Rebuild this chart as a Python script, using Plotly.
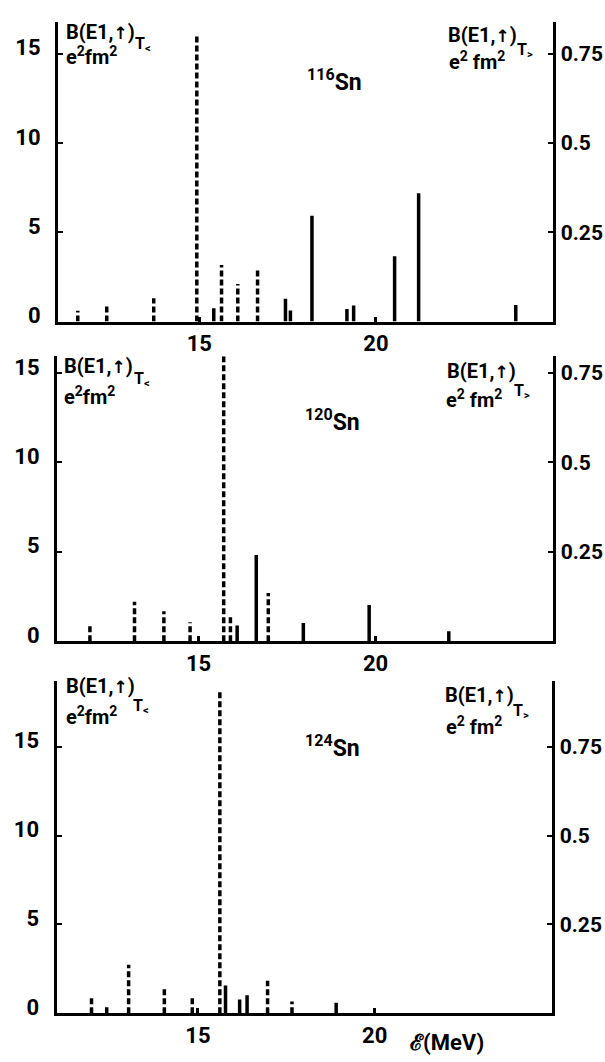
import plotly.graph_objects as go

W, H = 605, 1062

# ---------------- data ----------------
x_ticks = [15, 20]
x_tick_labels = ["15", "20"]
left_ticks = [0, 5, 10, 15]
left_tick_labels = ["0", "5", "10", "15"]
right_ticks = [0.25, 0.5, 0.75]
right_tick_labels = ["0.25", "0.5", "0.75"]

nuclei = ["116", "120", "124"]

# 116Sn  (T< on left axis, e^2 fm^2 ; T> on right axis, e^2 fm^2)
sn116_tlow_energy = [11.56, 12.38, 13.71, 14.93, 15.63, 16.09, 16.65]
sn116_tlow_b = [0.6, 0.9, 1.31, 16.1, 3.16, 2.1, 3.0]
sn116_thigh_energy = [15.41, 17.44, 17.58, 18.19, 19.18, 19.37, 20.53, 21.21, 23.96]
sn116_thigh_b = [0.0375, 0.064, 0.031, 0.296, 0.0355, 0.045, 0.183, 0.359, 0.0465]

# 120Sn
sn120_tlow_energy = [11.93, 13.19, 14.02, 14.76, 15.71, 15.90, 16.97]
sn120_tlow_b = [0.83, 2.2, 1.67, 1.06, 15.95, 1.48, 2.7]
sn120_thigh_energy = [16.09, 16.63, 17.96, 19.82, 22.07]
sn120_thigh_b = [0.0435, 0.241, 0.051, 0.101, 0.028]

# 124Sn
sn124_tlow_energy = [11.99, 12.42, 13.04, 14.05, 14.84, 15.62, 16.97, 17.66]
sn124_tlow_b = [0.97, 0.47, 2.73, 1.49, 0.94, 18.15, 1.83, 0.67]
sn124_thigh_energy = [15.78, 16.18, 16.39, 18.91]
sn124_thigh_b = [0.078, 0.039, 0.051, 0.03]

# ---------------- layout geometry (pixels) ----------------
FONT = "Roboto, Liberation Sans Narrow, sans-serif"
panels = [
    dict(x0=58, x1=552.5, ytop=21, ybot=323, ymax=16.78,
         lo=(sn116_tlow_energy, sn116_tlow_b), hi=(sn116_thigh_energy, sn116_thigh_b)),
    dict(x0=57, x1=552.5, ytop=358, ybot=645, ymax=15.94,
         lo=(sn120_tlow_energy, sn120_tlow_b), hi=(sn120_thigh_energy, sn120_thigh_b)),
    dict(x0=56.5, x1=551.5, ytop=685, ybot=1020, ymax=18.7,
         lo=(sn124_tlow_energy, sn124_tlow_b), hi=(sn124_thigh_energy, sn124_thigh_b)),
]


def px(x):
    return x / W


def py(y):
    return 1 - y / H


def stems(xs, ys):
    sx, sy = [], []
    for a, b in zip(xs, ys):
        sx += [a, a, None]
        sy += [0, b, None]
    return sx, sy


fig = go.Figure()
layout = dict(
    width=W, height=H,
    margin=dict(l=0, r=0, t=0, b=0),
    paper_bgcolor="white", plot_bgcolor="white",
    showlegend=False,
    font=dict(family=FONT, color="black"),
)

for i, p in enumerate(panels):
    n = i + 1
    xa = "x" if n == 1 else f"x{n}"
    ya_l = "y" if n == 1 else f"y{2 * n - 1}"
    ya_r = f"y{2 * n}"
    xkey = "xaxis" if n == 1 else f"xaxis{n}"
    ylkey = "yaxis" if n == 1 else f"yaxis{2 * n - 1}"
    yrkey = f"yaxis{2 * n}"

    lx, ly = stems(*p["lo"])
    fig.add_trace(go.Scatter(x=lx, y=ly, mode="lines", xaxis=xa, yaxis=ya_l,
                             line=dict(color="black", width=3.5, dash="6px,3px"),
                             hoverinfo="skip"))
    hx, hy = stems(*p["hi"])
    fig.add_trace(go.Scatter(x=hx, y=hy, mode="lines", xaxis=xa, yaxis=ya_r,
                             line=dict(color="black", width=3.5),
                             hoverinfo="skip"))

    layout[xkey] = dict(
        domain=[px(p["x0"]), px(p["x1"])], range=[11, 25], anchor=ya_l,
        tickmode="array", tickvals=x_ticks, ticktext=x_tick_labels,
        ticks="inside", ticklen=5, tickwidth=3, tickcolor="black",
        showline=True, linewidth=3, linecolor="black",
        showgrid=False, zeroline=False, ticklabelstandoff=0,
        tickfont=dict(size=22, family=FONT, weight="bold", color="black"),
    )
    layout[ylkey] = dict(
        domain=[py(p["ybot"]), py(p["ytop"])], range=[0, p["ymax"]], anchor=xa,
        tickmode="array", tickvals=left_ticks, ticktext=left_tick_labels,
        ticks="inside", ticklen=5, tickwidth=2, tickcolor="black",
        showline=True, linewidth=3, linecolor="black",
        showgrid=False, zeroline=False, ticklabelstandoff=10, ticklabelshift=-6,
        tickfont=dict(size=22, family=FONT, weight="bold", color="black"),
    )
    layout[yrkey] = dict(
        overlaying=ya_l, side="right", anchor=xa,
        range=[0, p["ymax"] / 20],
        tickmode="array", tickvals=right_ticks, ticktext=right_tick_labels,
        ticks="inside", ticklen=5, tickwidth=2, tickcolor="black",
        showline=True, linewidth=3, linecolor="black",
        showgrid=False, zeroline=False, ticklabelstandoff=1,
        tickfont=dict(size=21, family=FONT, weight="bold", color="black"),
    )

fig.update_layout(**layout)

# ---------------- annotations ----------------
label_pos = [
    # (B x, B cy, T< x, T< cy, e cy, R B x, R B cy, T> x, T> cy, R e x, R e cy, nucleus x, nucleus cy)
    (64, 31, 133, 44, 55, 446, 34, 515, 50, 447, 60, 305, 80),
    (62, 368, 132, 381, 398, 445, 373, 512, 393, 444, 401, 303, 423),
    (64, 690, 131, 711, 720, 443, 699, 511, 716, 444, 730, 303, 751),
]

ARROW = "<span style='font-family:DejaVu Sans;font-size:17px'>↑</span>"
anns = []


def ann(text, x, y, size, xanchor="left", yanchor="middle"):
    anns.append(dict(text=text, x=px(x), y=py(y), xref="paper", yref="paper",
                     xanchor=xanchor, yanchor=yanchor, showarrow=False,
                     font=dict(size=size, family=FONT, weight="bold", color="black")))


for i, lp in enumerate(label_pos):
    (bx, by, tx, ty, ey, rbx, rby, rtx, rty, rex, rey, nx, ny) = lp
    ann(f"B(E1,{ARROW})", bx, by, 20)
    ann("T<sub>&lt;</sub>", tx, ty, 16)
    ann("e<sup>2</sup>fm<sup>2</sup>", bx, ey, 20)
    ann(f"B(E1,{ARROW})", rbx, rby, 20)
    ann("T<sub>&gt;</sub>", rtx, rty, 16)
    ann("e<sup>2</sup> fm<sup>2</sup>", rex, rey, 20)
    ann(f"<sup>{nuclei[i]}</sup>Sn", nx, ny, 23)

ann("ℰ(MeV)", 408, 1049, 22)

fig.update_layout(annotations=anns)
fig.write_html(
    "out.html",
    config={"displayModeBar": False},
    post_script="document.body.style.margin='0';document.body.style.overflow='hidden';",
)
